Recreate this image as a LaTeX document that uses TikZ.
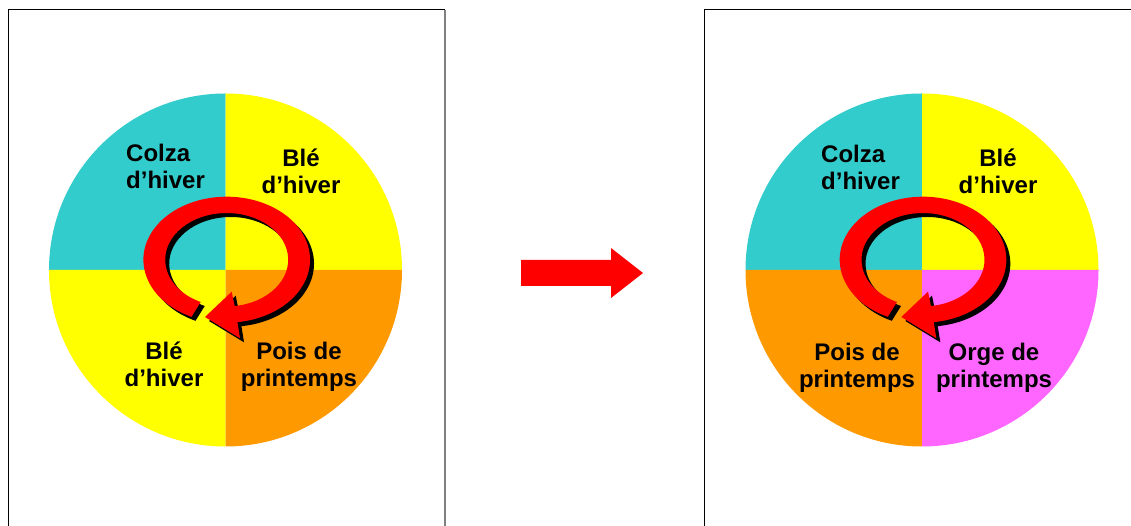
\documentclass[tikz,border=0pt]{standalone}
\usepackage{fontspec}
\setmainfont{Liberation Sans}
\definecolor{cteal}{HTML}{33CCCC}
\definecolor{cyellow}{HTML}{FFFF00}
\definecolor{corange}{HTML}{FF9900}
\definecolor{cmagenta}{HTML}{FF66FF}
\definecolor{cred}{HTML}{FF0000}
\definecolor{cgray}{HTML}{808080}
\tikzset{
  lbl/.style={inner sep=0pt, font=\fontsize{24}{27}\selectfont\bfseries, text=black},
  framel/.style={draw=black, line width=1pt},
}
\newcommand{\ringpath}{(245:83.3 and 63) arc[start angle=245, end angle=-82.6, x radius=83.3, y radius=63] -- (13.3,-78.6) -- (-21.7,-57.3) -- (5,-32) -- (-82.6:61.5 and 46.7) arc[start angle=-82.6, end angle=245, x radius=61.5, y radius=46.7] -- cycle}
\newcommand{\cyclearrow}[2]{%
  \begin{scope}[shift={(#1+4,#2-4)}]\fill[black] \ringpath;\end{scope}
  \begin{scope}[shift={(#1,#2)}]\fill[cred] \ringpath;\end{scope}}
\newcommand{\quadpie}[6]{% cx cy tl tr bl br
  \fill[#3] (#1,#2) -- ++(-176.5,0) arc[start angle=180, end angle=90, radius=176.5] -- cycle;
  \fill[#4] (#1,#2) -- ++(0,176.5) arc[start angle=90, end angle=0, radius=176.5] -- cycle;
  \fill[#5] (#1,#2) -- ++(0,-176.5) arc[start angle=270, end angle=180, radius=176.5] -- cycle;
  \fill[#6] (#1,#2) -- ++(176.5,0) arc[start angle=0, end angle=-90, radius=176.5] -- cycle;}
\begin{document}
\begin{tikzpicture}[x=1pt,y=1pt]
\useasboundingbox (0,0) rectangle (1131,526);
% frames
\draw[framel] (8,-2) -- (8,516) -- (445,516);
\draw[cgray, line width=1.5pt] (445,516) -- (445,-2);
\draw[framel] (704,-2) -- (704,516) -- (1133,516);
% left pie
\quadpie{225.5}{256}{cteal}{cyellow}{cyellow}{corange}
% right pie
\quadpie{922}{256}{cteal}{cyellow}{corange}{cmagenta}
% circular arrows
\cyclearrow{226.7}{266.3}
\cyclearrow{923}{266.3}
% labels left
\node[lbl, anchor=west, align=left] (colzaL) at (126,359.3) {Colza\\d’hiver};
\node[lbl, align=center] (bleTL) at (301,354.3) {Blé\\d’hiver};
\node[lbl, align=center] (bleBL) at (164,161.3) {Blé\\d’hiver};
\node[lbl, align=center] (poisL) at (299,159.4) {Pois de\\printemps};
% labels right
\node[lbl, anchor=west, align=left] (colzaR) at (821,358.3) {Colza\\d’hiver};
\node[lbl, align=center] (bleR) at (998,354.3) {Blé\\d’hiver};
\node[lbl, align=center] (poisR) at (857,157.9) {Pois de\\printemps};
\node[lbl, align=center] (orgeR) at (994,157.9) {Orge de\\printemps};
% middle arrow
\fill[cred] (521,266) -- (611,266) -- (611,278) -- (643,253) -- (611,228) -- (611,240) -- (521,240) -- cycle;
\end{tikzpicture}
\end{document}
